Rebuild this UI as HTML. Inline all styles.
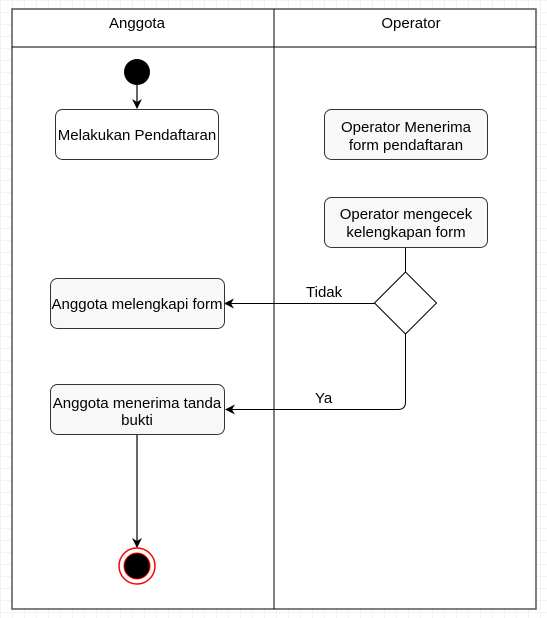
<!DOCTYPE html>
<html><head><style>
body{margin:0;width:547px;height:618px;overflow:hidden;background:#fff;
background-image:linear-gradient(#f3f3f3 1px,transparent 1px),linear-gradient(90deg,#f3f3f3 1px,transparent 1px);background-size:12px 12px;}
</style></head><body>
<svg width="547" height="618" style="position:absolute;left:0;top:0" font-family="Liberation Sans, sans-serif" font-size="15">
<defs><marker id="a" markerWidth="10" markerHeight="10" refX="9" refY="5" orient="auto" markerUnits="userSpaceOnUse"><path d="M0,0 L10,5 L0,10 L3,5 Z" fill="#000"/></marker></defs>
<rect x="12" y="9" width="524" height="600" fill="#fff" stroke="#555" stroke-width="1.5"/>
<line x1="12" y1="47" x2="536" y2="47" stroke="#000"/>
<line x1="274" y1="9" x2="274" y2="609" stroke="#000"/>
<text x="137" y="28" text-anchor="middle">Anggota</text>
<text x="411" y="28" text-anchor="middle">Operator</text>
<circle cx="137" cy="72" r="13" fill="#000"/>
<line x1="137" y1="85" x2="137" y2="108" stroke="#333" stroke-width="1.5" marker-end="url(#a)"/>
<rect x="55.5" y="109.5" width="163" height="50" rx="7" fill="#fff" stroke="#333"/>
<text x="137" y="140" text-anchor="middle">Melakukan Pendaftaran</text>
<rect x="324.5" y="109.5" width="163" height="50" rx="7" fill="#f8f8f8" stroke="#333"/>
<text x="406" y="132" text-anchor="middle">Operator Menerima</text>
<text x="406" y="150" text-anchor="middle">form pendaftaran</text>
<rect x="324.5" y="197.5" width="163" height="50" rx="7" fill="#f8f8f8" stroke="#333"/>
<text x="406" y="219" text-anchor="middle">Operator mengecek</text>
<text x="406" y="237" text-anchor="middle">kelengkapan form</text>
<line x1="405.5" y1="248" x2="405.5" y2="272" stroke="#000"/>
<polygon points="405.5,272 436.5,303 405.5,334 374.5,303" fill="#fff" stroke="#000"/>
<line x1="374.5" y1="303.5" x2="225" y2="303.5" stroke="#000" marker-end="url(#a)"/>
<text x="306" y="297">Tidak</text>
<path d="M405.5,334 V402 Q405.5,409.5 398,409.5 H226" fill="none" stroke="#000" marker-end="url(#a)"/>
<text x="315" y="403">Ya</text>
<rect x="50.5" y="278.5" width="174" height="50" rx="7" fill="#f8f8f8" stroke="#333"/>
<text x="137" y="309" text-anchor="middle">Anggota melengkapi form</text>
<rect x="50.5" y="384.5" width="174" height="50" rx="7" fill="#f8f8f8" stroke="#333"/>
<text x="137" y="408" text-anchor="middle">Anggota menerima tanda</text>
<text x="137" y="425" text-anchor="middle">bukti</text>
<line x1="137" y1="435" x2="137" y2="547" stroke="#333" stroke-width="1.5" marker-end="url(#a)"/>
<circle cx="137" cy="566" r="18" fill="#fff" stroke="#f00" stroke-width="1.5"/>
<circle cx="137" cy="566" r="13" fill="#000" stroke="#f00" stroke-width="1"/>
</svg>
</body></html>
